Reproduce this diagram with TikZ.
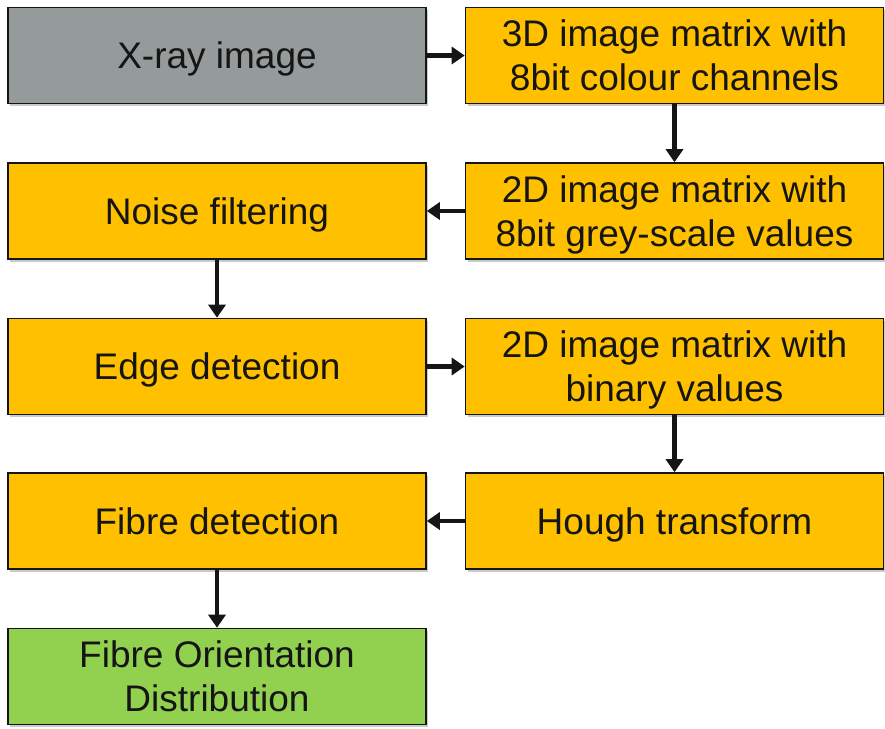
\documentclass[tikz,border=0pt]{standalone}
\usepackage{fontspec}
\setmainfont{Liberation Sans}
\usetikzlibrary{arrows.meta,shadows}
\definecolor{boxorange}{HTML}{FFC000}
\definecolor{boxgray}{HTML}{959B9B}
\definecolor{boxgreen}{HTML}{92D050}
\definecolor{inkdark}{HTML}{151515}
\newcommand\tstrut{\rule{0pt}{34.4pt}}
\newcommand\bstrut{\rule[-7.8pt]{0pt}{7.8pt}}
\begin{document}
\begin{tikzpicture}[x=1pt,y=-1pt,
  stepbox/.style={draw=inkdark,line width=1.6pt,minimum width=418pt,minimum height=96pt,
    align=center,inner sep=0pt,text=inkdark,
    font=\fontsize{37}{44}\selectfont,
    drop shadow={shadow xshift=2pt,shadow yshift=-2.5pt,opacity=0.35,fill=black!60}},
  flow/.style={line width=4.5pt,draw=inkdark,-{Triangle[length=13pt,width=17pt]}}]
\useasboundingbox (0,0) rectangle (885,728);
\node[stepbox,fill=boxgray] (xray) at (217,55.5) {\tstrut X-ray image\bstrut};
\node[stepbox,fill=boxorange] (m3d) at (674.5,55.5) {\tstrut 3D image matrix with\\8bit colour channels\bstrut};
\node[stepbox,fill=boxorange] (m2d) at (674.5,211) {\tstrut 2D image matrix with\\8bit grey-scale values\bstrut};
\node[stepbox,fill=boxorange] (noise) at (217,211) {\tstrut Noise filtering\bstrut};
\node[stepbox,fill=boxorange] (edge) at (217,366.5) {\tstrut Edge detection\bstrut};
\node[stepbox,fill=boxorange] (bin) at (674.5,366.5) {\tstrut 2D image matrix with\\binary values\bstrut};
\node[stepbox,fill=boxorange] (hough) at (674.5,521) {\tstrut Hough transform\bstrut};
\node[stepbox,fill=boxorange] (fibre) at (217,521) {\tstrut Fibre detection\bstrut};
\node[stepbox,fill=boxgreen] (fod) at (217,676.5) {\tstrut Fibre Orientation\\Distribution\bstrut};
\draw[flow] (xray) -- (m3d);
\draw[flow] (m3d) -- (m2d);
\draw[flow] (m2d) -- (noise);
\draw[flow] (noise) -- (edge);
\draw[flow] (edge) -- (bin);
\draw[flow] (bin) -- (hough);
\draw[flow] (hough) -- (fibre);
\draw[flow] (fibre) -- (fod);
\end{tikzpicture}
\end{document}
